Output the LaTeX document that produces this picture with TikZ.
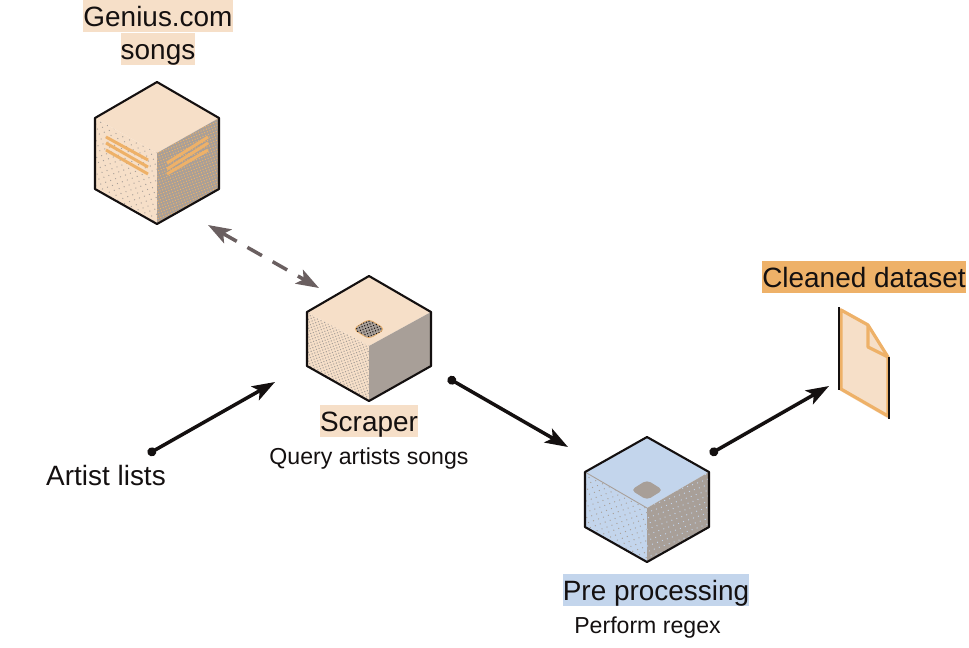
\documentclass[tikz,border=0pt]{standalone}
\usepackage{fontspec}
\setmainfont{Liberation Sans}
\usetikzlibrary{arrows.meta,patterns.meta}
\definecolor{beige}{HTML}{F6DFC8}
\definecolor{amber}{HTML}{EEB168}
\definecolor{stone}{HTML}{A89F98}
\definecolor{sky}{HTML}{C3D5EC}
\definecolor{ink}{HTML}{141010}
\definecolor{mauve}{HTML}{6A5F60}
\tikzset{
	lbl/.style={inner sep=0pt,text height=0.52cm,text depth=0.12cm,text=ink,font=\fontsize{15.9}{18}\selectfont},
	sublbl/.style={inner sep=0pt,text=ink,font=\fontsize{13.15}{16}\selectfont},
	outline/.style={draw=ink,line width=1.2pt,line join=round},
	sparse/.style={postaction={pattern={Dots[distance=3pt,radius=0.38pt,angle=20]},pattern color=#1}},
	dense/.style={postaction={pattern={Dots[distance=1.6pt,radius=0.42pt,angle=20]},pattern color=#1}},
	flow/.style={draw=ink,line width=2pt,{Circle[length=5pt]}-{Stealth[length=13pt,width=9pt,inset=3pt]}},
	query/.style={draw=mauve,line width=2pt,dash pattern=on 9.5pt off 7pt,{Stealth[length=13pt,width=9pt,inset=3pt]}-{Stealth[length=13pt,width=9pt,inset=3pt]}},
	streak/.style={draw=amber,line width=1.7pt},
}
\begin{document}
\begin{tikzpicture}[x=0.02cm,y=-0.02cm]
	\useasboundingbox (0,0) rectangle (969,647);
	% genius cube
	\fill[beige] (157,82)--(219,118)--(157,153)--(95,118)--cycle;
	\fill[beige,sparse=stone] (95,118)--(157,153)--(157,224)--(95,189)--cycle;
	\fill[stone,dense=amber] (219,118)--(157,153)--(157,224)--(219,189)--cycle;
	\draw[streak] (106,137)--(148,160);
	\draw[streak] (106,143)--(148,167);
	\draw[streak] (106,150)--(148,174);
	\draw[streak] (167,163)--(208,137);
	\draw[streak] (167,169)--(208,143);
	\draw[streak] (167,174)--(208,150);
	\draw[outline] (157,82)--(219,118)--(219,189)--(157,224)--(95,189)--(95,118)--cycle;
	%
	% scraper cube
	\fill[beige] (369,276)--(431,312)--(369,346)--(307,312)--cycle;
	\fill[beige,dense=stone] (307,312)--(369,346)--(369,401)--(307,366)--cycle;
	\fill[stone] (431,312)--(369,346)--(369,401)--(431,366)--cycle;
	\fill[stone,dense=ink,draw=amber,line width=0.4pt,rounded corners=2.5pt] (369,319)--(385,329)--(369,339)--(353,329)--cycle;
	\draw[outline] (369,276)--(431,312)--(431,366)--(369,401)--(307,366)--(307,312)--cycle;
	%
	% preprocessing cube
	\fill[sky] (647,437)--(709,472)--(647,508)--(585,472)--cycle;
	\fill[sky,sparse=stone] (585,472)--(647,508)--(647,562)--(585,527)--cycle;
	\fill[stone,sparse=sky] (709,472)--(647,508)--(647,562)--(709,527)--cycle;
	\draw[stone,line width=0.5pt] (585,472)--(647,508);
	\fill[stone,rounded corners=2.5pt] (647,480)--(663,490)--(647,500)--(631,490)--cycle;
	\draw[outline] (647,437)--(709,472)--(709,527)--(647,562)--(585,527)--(585,472)--cycle;
	%
	% cleaned file
	\fill[beige] (839,307)--(868,323)--(889,357)--(889,419)--(839,390)--cycle;
	\draw[amber,line width=1.8pt,line join=round] (841,310)--(868,325)--(888,357)--(888,416)--(841,389)--cycle;
	\draw[amber,line width=1.8pt,line join=round] (868,325)--(868,347)--(888,357);
	\draw[ink,line width=0.6pt] (839,307)--(839,390);
	\draw[ink,line width=0.6pt] (889,357)--(889,419);
	%
	% labels
	\node[lbl,fill=beige,minimum width=3cm] (genius) at (158,16) {Genius.com};
	\node[lbl,fill=beige,minimum width=1.48cm] (songs) at (158,49) {songs};
	\node[lbl,fill=beige,minimum width=1.96cm] (scraper) at (369,421) {Scraper};
	\node[sublbl] (queryartists) at (369,459) {Query artists songs};
	\node[lbl,fill=sky,minimum width=3.72cm] (preproc) at (656,590) {Pre processing};
	\node[sublbl] (regex) at (647.5,628) {Perform regex};
	\node[lbl,fill=amber,minimum width=4.08cm] (cleaned) at (864,277) {Cleaned dataset};
	\node[lbl] (artists) at (106,475) {Artist lists};
	%
	% connectors
	\coordinate (geniusend) at (208,225);
	\coordinate (scraperin) at (319,288);
	\coordinate (artiststart) at (148,454);
	\coordinate (scraperend) at (275,382);
	\coordinate (scraperout) at (448,378);
	\coordinate (prein) at (568,447);
	\coordinate (preout) at (710,454);
	\coordinate (cleanedin) at (829,386);
	\draw[query] (geniusend)--(scraperin);
	\draw[flow] (artiststart)--(scraperend);
	\draw[flow] (scraperout)--(prein);
	\draw[flow] (preout)--(cleanedin);
\end{tikzpicture}
\end{document}
